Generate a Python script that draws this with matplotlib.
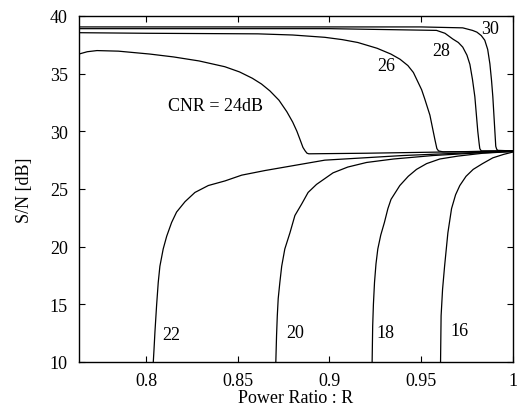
import matplotlib
matplotlib.use("Agg")
import matplotlib.pyplot as plt

plt.rcParams["font.family"] = ["Liberation Serif", "DejaVu Serif"]

# upper family (CNR 24..30 dB), S/N falls to ~28.3 dB
cnr24_r = [0.7635, 0.768, 0.7733, 0.785, 0.802, 0.815, 0.829, 0.843, 0.851, 0.858, 0.863, 0.8676,
           0.8725, 0.8768, 0.880, 0.8823, 0.8842, 0.8856, 0.8868, 0.8878, 0.8888, 0.92, 0.96, 1.0]
cnr24_sn = [36.7, 36.9, 37.0, 36.95, 36.7, 36.45, 36.1, 35.6, 35.15, 34.6, 34.1, 33.5,
            32.7, 31.7, 30.8, 30.0, 29.2, 28.6, 28.3, 28.1, 28.05, 28.1, 28.2, 28.3]

cnr26_r = [0.7635, 0.80, 0.861, 0.88, 0.8975, 0.907, 0.9155, 0.926, 0.9335, 0.9385, 0.9428, 0.9458,
           0.9482, 0.9503, 0.952, 0.9548, 0.9575, 0.9586, 0.9595, 0.962, 0.98, 1.0]
cnr26_sn = [38.55, 38.5, 38.45, 38.35, 38.15, 37.95, 37.7, 37.2, 36.7, 36.25, 35.7, 35.1,
            34.3, 33.6, 32.8, 31.4, 29.3, 28.5, 28.3, 28.22, 28.25, 28.3]

cnr28_r = [0.7635, 0.90, 0.9584, 0.963, 0.9673, 0.9703, 0.9727, 0.975, 0.9766, 0.978, 0.9793,
           0.9809, 0.9816, 0.982, 0.9828, 1.0]
cnr28_sn = [38.9, 38.9, 38.75, 38.5, 38.0, 37.7, 37.3, 36.6, 35.8, 34.5, 33.0,
            30.0, 29.0, 28.5, 28.3, 28.3]

cnr30_r = [0.7635, 0.95, 0.9727, 0.978, 0.9804, 0.9828, 0.9847, 0.9863, 0.9875, 0.9884, 0.9891,
           0.9907, 0.9912, 0.9918, 1.0]
cnr30_sn = [39.05, 39.05, 38.97, 38.75, 38.6, 38.3, 37.9, 37.1, 35.85, 34.4, 33.0,
            28.7, 28.45, 28.35, 28.3]

# lower family (CNR 16..22 dB), S/N rises to ~28.3 dB
cnr22_r = [0.804, 0.8044, 0.8049, 0.8058, 0.8067, 0.8076, 0.8094, 0.8113, 0.814, 0.8167, 0.8213,
           0.8267, 0.834, 0.8431, 0.8522, 0.8649, 0.8794, 0.8975, 0.94, 1.0]
cnr22_sn = [10, 11.1, 12.6, 14.9, 16.9, 18.3, 19.8, 20.9, 22.1, 23.0, 23.9,
            24.7, 25.3, 25.7, 26.2, 26.6, 27.0, 27.5, 27.9, 28.3]

cnr20_r = [0.8708, 0.8712, 0.8716, 0.8721, 0.873, 0.874, 0.8757, 0.8785, 0.8812, 0.8849, 0.8884,
           0.893, 0.902, 0.91, 0.9203, 0.935, 0.9564, 0.978, 1.0]
cnr20_sn = [10, 12.3, 14.0, 15.5, 16.9, 18.3, 19.8, 21.2, 22.7, 23.7, 24.7,
            25.4, 26.4, 26.9, 27.3, 27.6, 27.9, 28.1, 28.25]

cnr18_r = [0.9233, 0.9236, 0.924, 0.9246, 0.9254, 0.9264, 0.928, 0.93, 0.9319, 0.9336, 0.9384,
           0.943, 0.9475, 0.953, 0.9602, 0.97, 0.9836, 1.0]
cnr18_sn = [10, 13.1, 15.0, 16.9, 18.5, 19.8, 21.0, 22.1, 23.3, 24.1, 25.3,
            26.1, 26.7, 27.2, 27.6, 27.85, 28.1, 28.25]

cnr16_r = [0.9606, 0.9609, 0.9617, 0.9628, 0.9646, 0.9666, 0.9688, 0.9711, 0.9745, 0.9784,
           0.9835, 0.9891, 0.995, 1.0]
cnr16_sn = [10, 14.0, 16.3, 18.3, 21.2, 23.3, 24.5, 25.3, 26.1, 26.7,
            27.2, 27.7, 28.0, 28.2]

curves = [
    (cnr24_r, cnr24_sn), (cnr26_r, cnr26_sn), (cnr28_r, cnr28_sn), (cnr30_r, cnr30_sn),
    (cnr22_r, cnr22_sn), (cnr20_r, cnr20_sn), (cnr18_r, cnr18_sn), (cnr16_r, cnr16_sn),
]

label_text = ["CNR = 24dB", "26", "28", "30", "22", "20", "18", "16"]
label_r = [0.812, 0.9311, 0.9611, 0.9875, 0.814, 0.8812, 0.9308, 0.9709]
label_sn = [32.2, 35.7, 37.0, 38.9, 12.4, 12.6, 12.6, 12.7]

x_ticks = [0.8, 0.85, 0.9, 0.95, 1.0]
x_tick_labels = ["0.8", "0.85", "0.9", "0.95", "1"]
y_ticks = [10, 15, 20, 25, 30, 35, 40]

fs = 13

fig = plt.figure(figsize=(5.18, 4.14), dpi=100)
ax = fig.add_axes([0.1525, 0.1232, 0.8375, 0.8358])

for r, sn in curves:
    ax.plot(r, sn, color="black", linewidth=0.9)

for i, txt in enumerate(label_text):
    ha = "left" if i == 0 else "center"
    ax.text(label_r[i], label_sn[i], txt, ha=ha, va="center", fontsize=fs)

ax.set_xlim(0.7635, 1.0)
ax.set_ylim(10, 40)
ax.set_xticks(x_ticks)
ax.set_xticklabels(x_tick_labels)
ax.set_yticks(y_ticks)
ax.tick_params(direction="in", top=True, right=True, length=4, width=0.8, labelsize=fs)
ax.tick_params(axis="x", pad=7)
ax.tick_params(axis="y", pad=8)
for s in ax.spines.values():
    s.set_linewidth(1.0)

ax.set_xlabel("Power Ratio : R", fontsize=fs)
ax.xaxis.set_label_coords(0.5, -0.078)
ax.set_ylabel("S/N [dB]", fontsize=fs)
ax.yaxis.set_label_coords(-0.105, 0.5)

fig.savefig("out.png", dpi=100)
